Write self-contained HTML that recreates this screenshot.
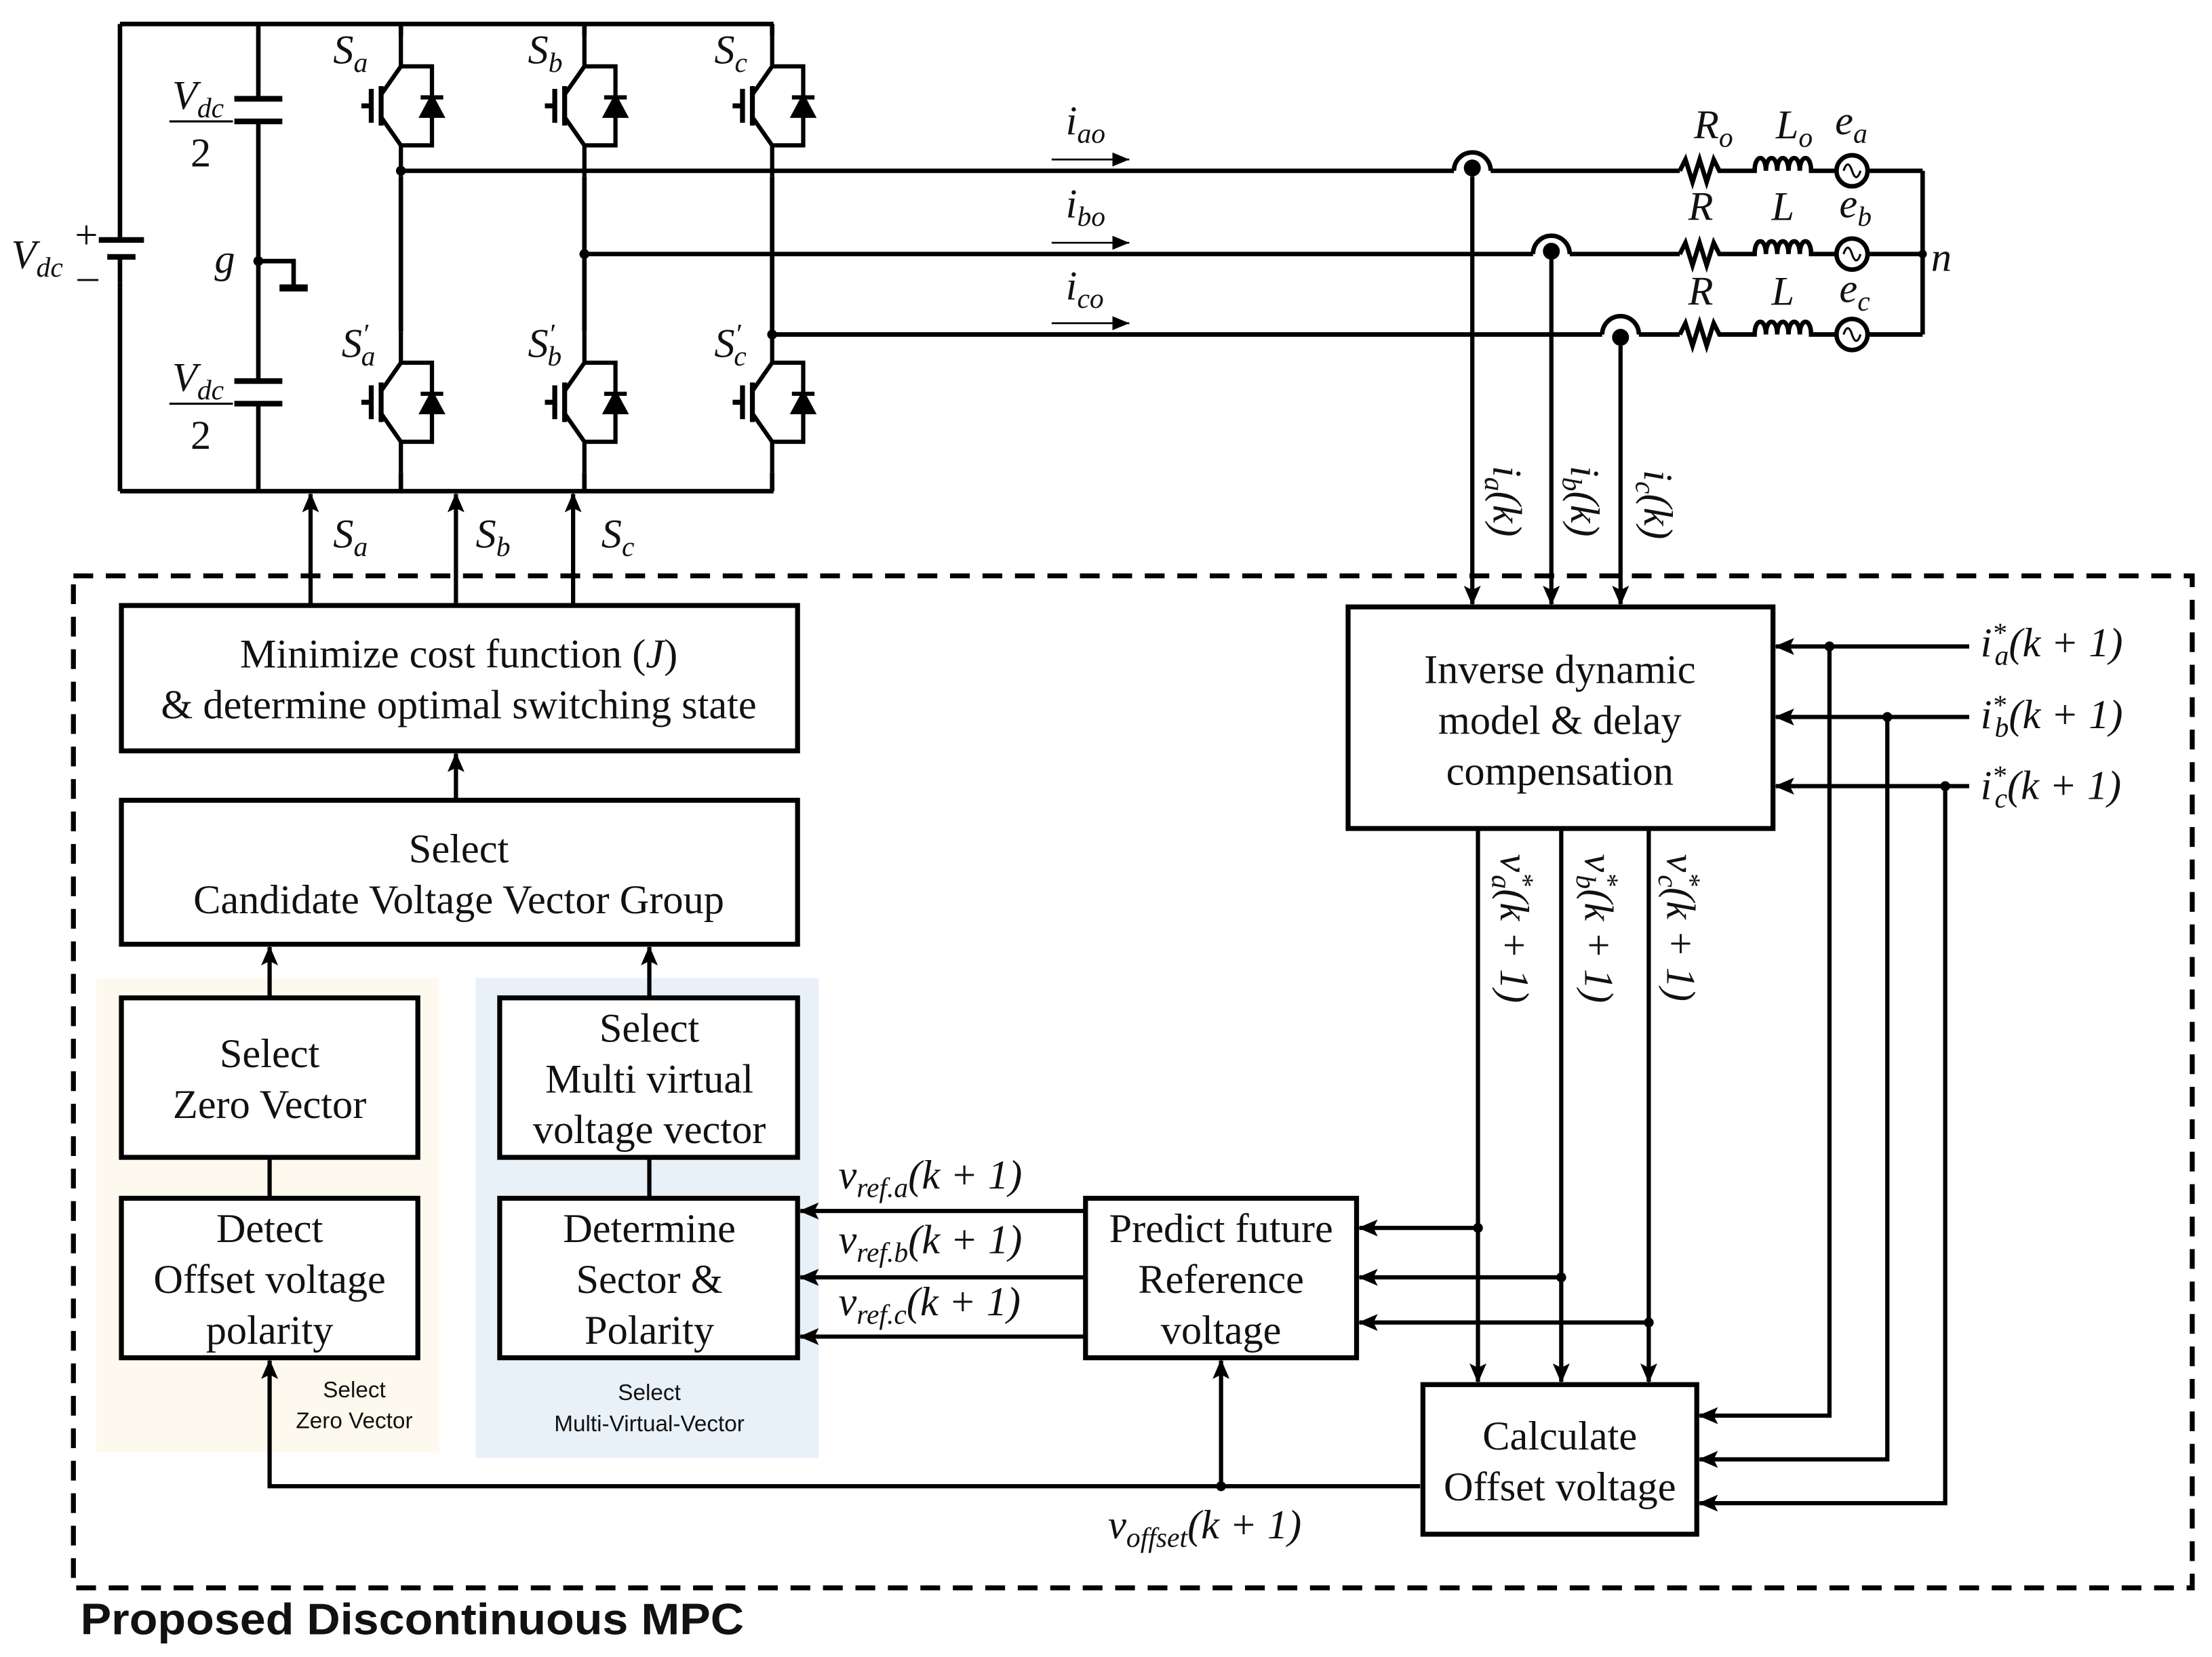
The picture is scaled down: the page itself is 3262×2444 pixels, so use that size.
<!DOCTYPE html>
<html><head><meta charset="utf-8"><style>
html,body{margin:0;padding:0;background:#fff}
svg{display:block}
.t{font-family:"Liberation Serif",serif;font-size:29px;fill:#111;text-anchor:middle}
.m{font-family:"Liberation Serif",serif;font-style:italic;font-size:29px;fill:#111}
.n{font-style:normal}
.s{font-size:20px}
.lab{font-family:"Liberation Sans",sans-serif;font-size:16px;fill:#111;text-anchor:middle}
</style></head><body>
<svg width="3262" height="2444" viewBox="0 0 1567 1174" preserveAspectRatio="none" xmlns="http://www.w3.org/2000/svg">
<defs>
<marker id="a" markerUnits="userSpaceOnUse" markerWidth="14" markerHeight="12" refX="13" refY="6" orient="auto"><path d="M0,0 L14,6 L0,12 L3,6 Z" fill="#000"/></marker>
<marker id="sa" markerUnits="userSpaceOnUse" markerWidth="12" markerHeight="10" refX="12" refY="5" orient="auto"><path d="M0,0 L12,5 L0,10 Z" fill="#000"/></marker>
<g id="igbt" fill="none" stroke="#000" stroke-width="3">
<path d="M0,-50 V-28 L-14,-8 M-14,8 L0,28 V50"/>
<path d="M-14,-14 V14 M-21,-12 V12 M-28,0 H-21" stroke-width="3.5"/>
<path d="M0,-28 H22 V28 H0"/>
<path d="M14,-6 H30" />
<path d="M22,-6 L15,7 H29 Z" fill="#000"/>
</g>
<g id="rl" fill="none" stroke="#000" stroke-width="3.2"><path d="M1190,121 l4,-8 l5,16 l5,-16 l5,16 l5,-16 l4,8 H1243 c0,-12 8,-12 8,0 c0,-12 8,-12 8,0 c0,-12 8,-12 8,0 c0,-12 8,-12 8,0 c0,-12 8,-12 8,0 H1300 M1324,121 H1362"/><circle cx="1312" cy="121" r="11"/><path d="M1306,121 c2,-6 4,-6 6,0 c2,6 4,6 6,0" stroke-width="1.5"/></g>
</defs>
<rect width="1567" height="1174" fill="#fff"/>

<rect x="68" y="693" width="243" height="336" fill="#fdf9ee"/>
<rect x="337" y="693" width="243" height="340" fill="#e8f0f8"/>

<g fill="none" stroke="#000" stroke-width="3.2">
<path d="M85,17 H548 M85,348 H548 M85,17 V170 M85,200 V348"/>
<path d="M70,170 H102 M76,182 H96" stroke-width="4"/>
<path d="M85,182 V200"/>
<path d="M183,17 V70 M183,86 V270 M183,286 V348"/>
<path d="M166,70 H200 M166,86 H200 M166,270 H200 M166,286 H200" stroke-width="4"/>
<path d="M183,185 H208 V204"/>
<path d="M198,204 H218" stroke-width="5"/>
<path d="M284,17 V25 M284,125 V235 M284,335 V348"/>
<path d="M414,17 V25 M414,125 V235 M414,335 V348"/>
<path d="M547,17 V25 M547,125 V235 M547,335 V348"/>
<path d="M284,121 H1030 M1056,121 H1190"/>
<path d="M414,180 H1086 M1112,180 H1190"/>
<path d="M547,237 H1135 M1161,237 H1190"/>
<path d="M1030,121 A13,13 0 0 1 1056,121 M1086,180 A13,13 0 0 1 1112,180 M1135,237 A13,13 0 0 1 1161,237"/>
</g>
<use href="#rl"/>
<use href="#rl" y="59"/>
<use href="#rl" y="116"/>
<path d="M1362,121 V237" stroke="#000" stroke-width="3.2"/>
<circle cx="1362" cy="180" r="3" fill="#000"/>
<circle cx="284" cy="121" r="3.5"/><circle cx="414" cy="180" r="3.5"/><circle cx="547" cy="237" r="3.5"/><circle cx="183" cy="185" r="3.5"/>
<circle cx="1043" cy="119" r="6"/><circle cx="1099" cy="178" r="6"/><circle cx="1148" cy="239" r="6"/>

<use href="#igbt" x="284" y="75"/><use href="#igbt" x="414" y="75"/><use href="#igbt" x="547" y="75"/>
<use href="#igbt" x="284" y="285"/><use href="#igbt" x="414" y="285"/><use href="#igbt" x="547" y="285"/>

<g stroke="#000" stroke-width="1.3" marker-end="url(#sa)"><path d="M745,113 H800"/><path d="M745,172 H800"/><path d="M745,229 H800"/></g>

<rect x="52" y="408" width="1501" height="717" fill="none" stroke="#000" stroke-width="3.5" stroke-dasharray="14,9"/>

<g fill="#fff" stroke="#000" stroke-width="3.5">
<rect x="86" y="429" width="479" height="103"/>
<rect x="86" y="567" width="479" height="102"/>
<rect x="86" y="707" width="210" height="113"/>
<rect x="86" y="849" width="210" height="113"/>
<rect x="354" y="707" width="211" height="113"/>
<rect x="354" y="849" width="211" height="113"/>
<rect x="769" y="849" width="192" height="113"/>
<rect x="955" y="430" width="301" height="157"/>
<rect x="1008" y="981" width="194" height="106"/>
</g>

<g fill="none" stroke="#000" stroke-width="3" marker-end="url(#a)">
<path d="M220,429 V350"/><path d="M323,429 V350"/><path d="M406,429 V350"/>
<path d="M1043,125 V428"/><path d="M1099,184 V428"/><path d="M1148,245 V428"/>
<path d="M323,567 V534"/>
<path d="M191,707 V671"/><path d="M460,707 V671"/>
<path d="M1395,458 H1258"/><path d="M1395,508 H1258"/><path d="M1395,557 H1258"/>
<path d="M1296,458 V1003 H1204"/><path d="M1337,508 V1034 H1204"/><path d="M1378,557 V1065 H1204"/>
<path d="M1047,587 V979"/><path d="M1106,587 V979"/><path d="M1168,587 V979"/>
<path d="M1047,870 H963"/><path d="M1106,905 H963"/><path d="M1168,937 H963"/>
<path d="M769,858 H567"/><path d="M769,905 H567"/><path d="M769,947 H567"/>
<path d="M1006,1053 H191 V964"/>
<path d="M865,1053 V964"/>
</g>
<g stroke="#000" stroke-width="3"><path d="M191,820 V849 M460,820 V849"/></g>
<g fill="#000"><circle cx="1296" cy="458" r="3.5"/><circle cx="1337" cy="508" r="3.5"/><circle cx="1378" cy="557" r="3.5"/>
<circle cx="1047" cy="870" r="3.5"/><circle cx="1106" cy="905" r="3.5"/><circle cx="1168" cy="937" r="3.5"/><circle cx="865" cy="1053" r="3.5"/></g>

<text class="t" x="325" y="473">Minimize cost function (<tspan font-style="italic">J</tspan>)</text>
<text class="t" x="325" y="509">&amp; determine optimal switching state</text>
<text class="t" x="325" y="611">Select</text>
<text class="t" x="325" y="647">Candidate Voltage Vector Group</text>
<text class="t" x="191" y="756">Select</text>
<text class="t" x="191" y="792">Zero Vector</text>
<text class="t" x="191" y="880">Detect</text>
<text class="t" x="191" y="916">Offset voltage</text>
<text class="t" x="191" y="952">polarity</text>
<text class="t" x="460" y="738">Select</text>
<text class="t" x="460" y="774">Multi virtual</text>
<text class="t" x="460" y="810">voltage vector</text>
<text class="t" x="460" y="880">Determine</text>
<text class="t" x="460" y="916">Sector &amp;</text>
<text class="t" x="460" y="952">Polarity</text>
<text class="t" x="865" y="880">Predict future</text>
<text class="t" x="865" y="916">Reference</text>
<text class="t" x="865" y="952">voltage</text>
<text class="t" x="1105" y="484">Inverse dynamic</text>
<text class="t" x="1105" y="520">model &amp; delay</text>
<text class="t" x="1105" y="556">compensation</text>
<text class="t" x="1105" y="1027">Calculate</text>
<text class="t" x="1105" y="1063">Offset voltage</text>

<text class="lab" x="251" y="990">Select</text>
<text class="lab" x="251" y="1012">Zero Vector</text>
<text class="lab" x="460" y="992">Select</text>
<text class="lab" x="460" y="1014">Multi-Virtual-Vector</text>

<text x="57" y="1158" font-family="Liberation Sans, sans-serif" font-weight="bold" font-size="31" textLength="470" lengthAdjust="spacingAndGlyphs" fill="#111">Proposed Discontinuous MPC</text>

<text class="m" x="8" y="190">V<tspan class="s" dy="6">dc</tspan></text>
<text class="m n" x="53" y="176" font-size="20">+</text>
<text class="m n" x="55" y="205" font-size="20">–</text>
<text class="m" x="122" y="77">V<tspan class="s" dy="6">dc</tspan></text>
<path d="M120,86 H165 M120,286 H165" stroke="#000" stroke-width="1.5"/>
<text class="m n" x="135" y="118">2</text>
<text class="m" x="122" y="277">V<tspan class="s" dy="6">dc</tspan></text>
<text class="m n" x="135" y="318">2</text>
<text class="m" x="152" y="193">g</text>
<text class="m" x="236" y="45">S<tspan class="s" dy="6">a</tspan></text>
<text class="m" x="374" y="45">S<tspan class="s" dy="6">b</tspan></text>
<text class="m" x="506" y="45">S<tspan class="s" dy="6">c</tspan></text>
<text class="m" x="242" y="253">S<tspan class="s" dy="-10">′</tspan><tspan class="s" dx="-5" dy="16">a</tspan></text>
<text class="m" x="374" y="253">S<tspan class="s" dy="-10">′</tspan><tspan class="s" dx="-5" dy="16">b</tspan></text>
<text class="m" x="506" y="253">S<tspan class="s" dy="-10">′</tspan><tspan class="s" dx="-5" dy="16">c</tspan></text>
<text class="m" x="236" y="388">S<tspan class="s" dy="6">a</tspan></text>
<text class="m" x="337" y="388">S<tspan class="s" dy="6">b</tspan></text>
<text class="m" x="426" y="388">S<tspan class="s" dy="6">c</tspan></text>
<text class="m" x="755" y="95">i<tspan class="s" dy="6">ao</tspan></text>
<text class="m" x="755" y="154">i<tspan class="s" dy="6">bo</tspan></text>
<text class="m" x="755" y="212">i<tspan class="s" dy="6">co</tspan></text>
<text class="m" x="1200" y="98">R<tspan class="s" dy="6">o</tspan></text>
<text class="m" x="1258" y="98">L<tspan class="s" dy="6">o</tspan></text>
<text class="m" x="1300" y="95">e<tspan class="s" dy="6">a</tspan></text>
<text class="m" x="1196" y="156">R</text>
<text class="m" x="1255" y="156">L</text>
<text class="m" x="1303" y="154">e<tspan class="s" dy="6">b</tspan></text>
<text class="m" x="1196" y="216">R</text>
<text class="m" x="1255" y="216">L</text>
<text class="m" x="1303" y="214">e<tspan class="s" dy="6">c</tspan></text>
<text class="m" x="1368" y="192">n</text>

<text class="m" transform="translate(1058,330) rotate(90)">i<tspan class="s" dy="6">a</tspan><tspan dy="-6">(k)</tspan></text>
<text class="m" transform="translate(1113,330) rotate(90)">i<tspan class="s" dy="6">b</tspan><tspan dy="-6">(k)</tspan></text>
<text class="m" transform="translate(1165,333) rotate(90)">i<tspan class="s" dy="6">c</tspan><tspan dy="-6">(k)</tspan></text>

<text class="m" transform="translate(1063,605) rotate(90)">v<tspan class="s" dy="-10">*</tspan><tspan class="s" dx="-8" dy="16">a</tspan><tspan dy="-6">(k + 1)</tspan></text>
<text class="m" transform="translate(1123,605) rotate(90)">v<tspan class="s" dy="-10">*</tspan><tspan class="s" dx="-8" dy="16">b</tspan><tspan dy="-6">(k + 1)</tspan></text>
<text class="m" transform="translate(1181,605) rotate(90)">v<tspan class="s" dy="-10">*</tspan><tspan class="s" dx="-8" dy="16">c</tspan><tspan dy="-6">(k + 1)</tspan></text>

<text class="m" x="1403" y="465">i<tspan class="s" dy="-10">*</tspan><tspan class="s" dx="-8" dy="16">a</tspan><tspan dy="-6">(k + 1)</tspan></text>
<text class="m" x="1403" y="516">i<tspan class="s" dy="-10">*</tspan><tspan class="s" dx="-8" dy="16">b</tspan><tspan dy="-6">(k + 1)</tspan></text>
<text class="m" x="1403" y="566">i<tspan class="s" dy="-10">*</tspan><tspan class="s" dx="-8" dy="16">c</tspan><tspan dy="-6">(k + 1)</tspan></text>

<text class="m" x="594" y="842">v<tspan class="s" dy="6">ref.a</tspan><tspan dy="-6">(k + 1)</tspan></text>
<text class="m" x="594" y="888">v<tspan class="s" dy="6">ref.b</tspan><tspan dy="-6">(k + 1)</tspan></text>
<text class="m" x="594" y="932">v<tspan class="s" dy="6">ref.c</tspan><tspan dy="-6">(k + 1)</tspan></text>
<text class="m" x="785" y="1090">v<tspan class="s" dy="6">offset</tspan><tspan dy="-6">(k + 1)</tspan></text>
</svg>
</body></html>
